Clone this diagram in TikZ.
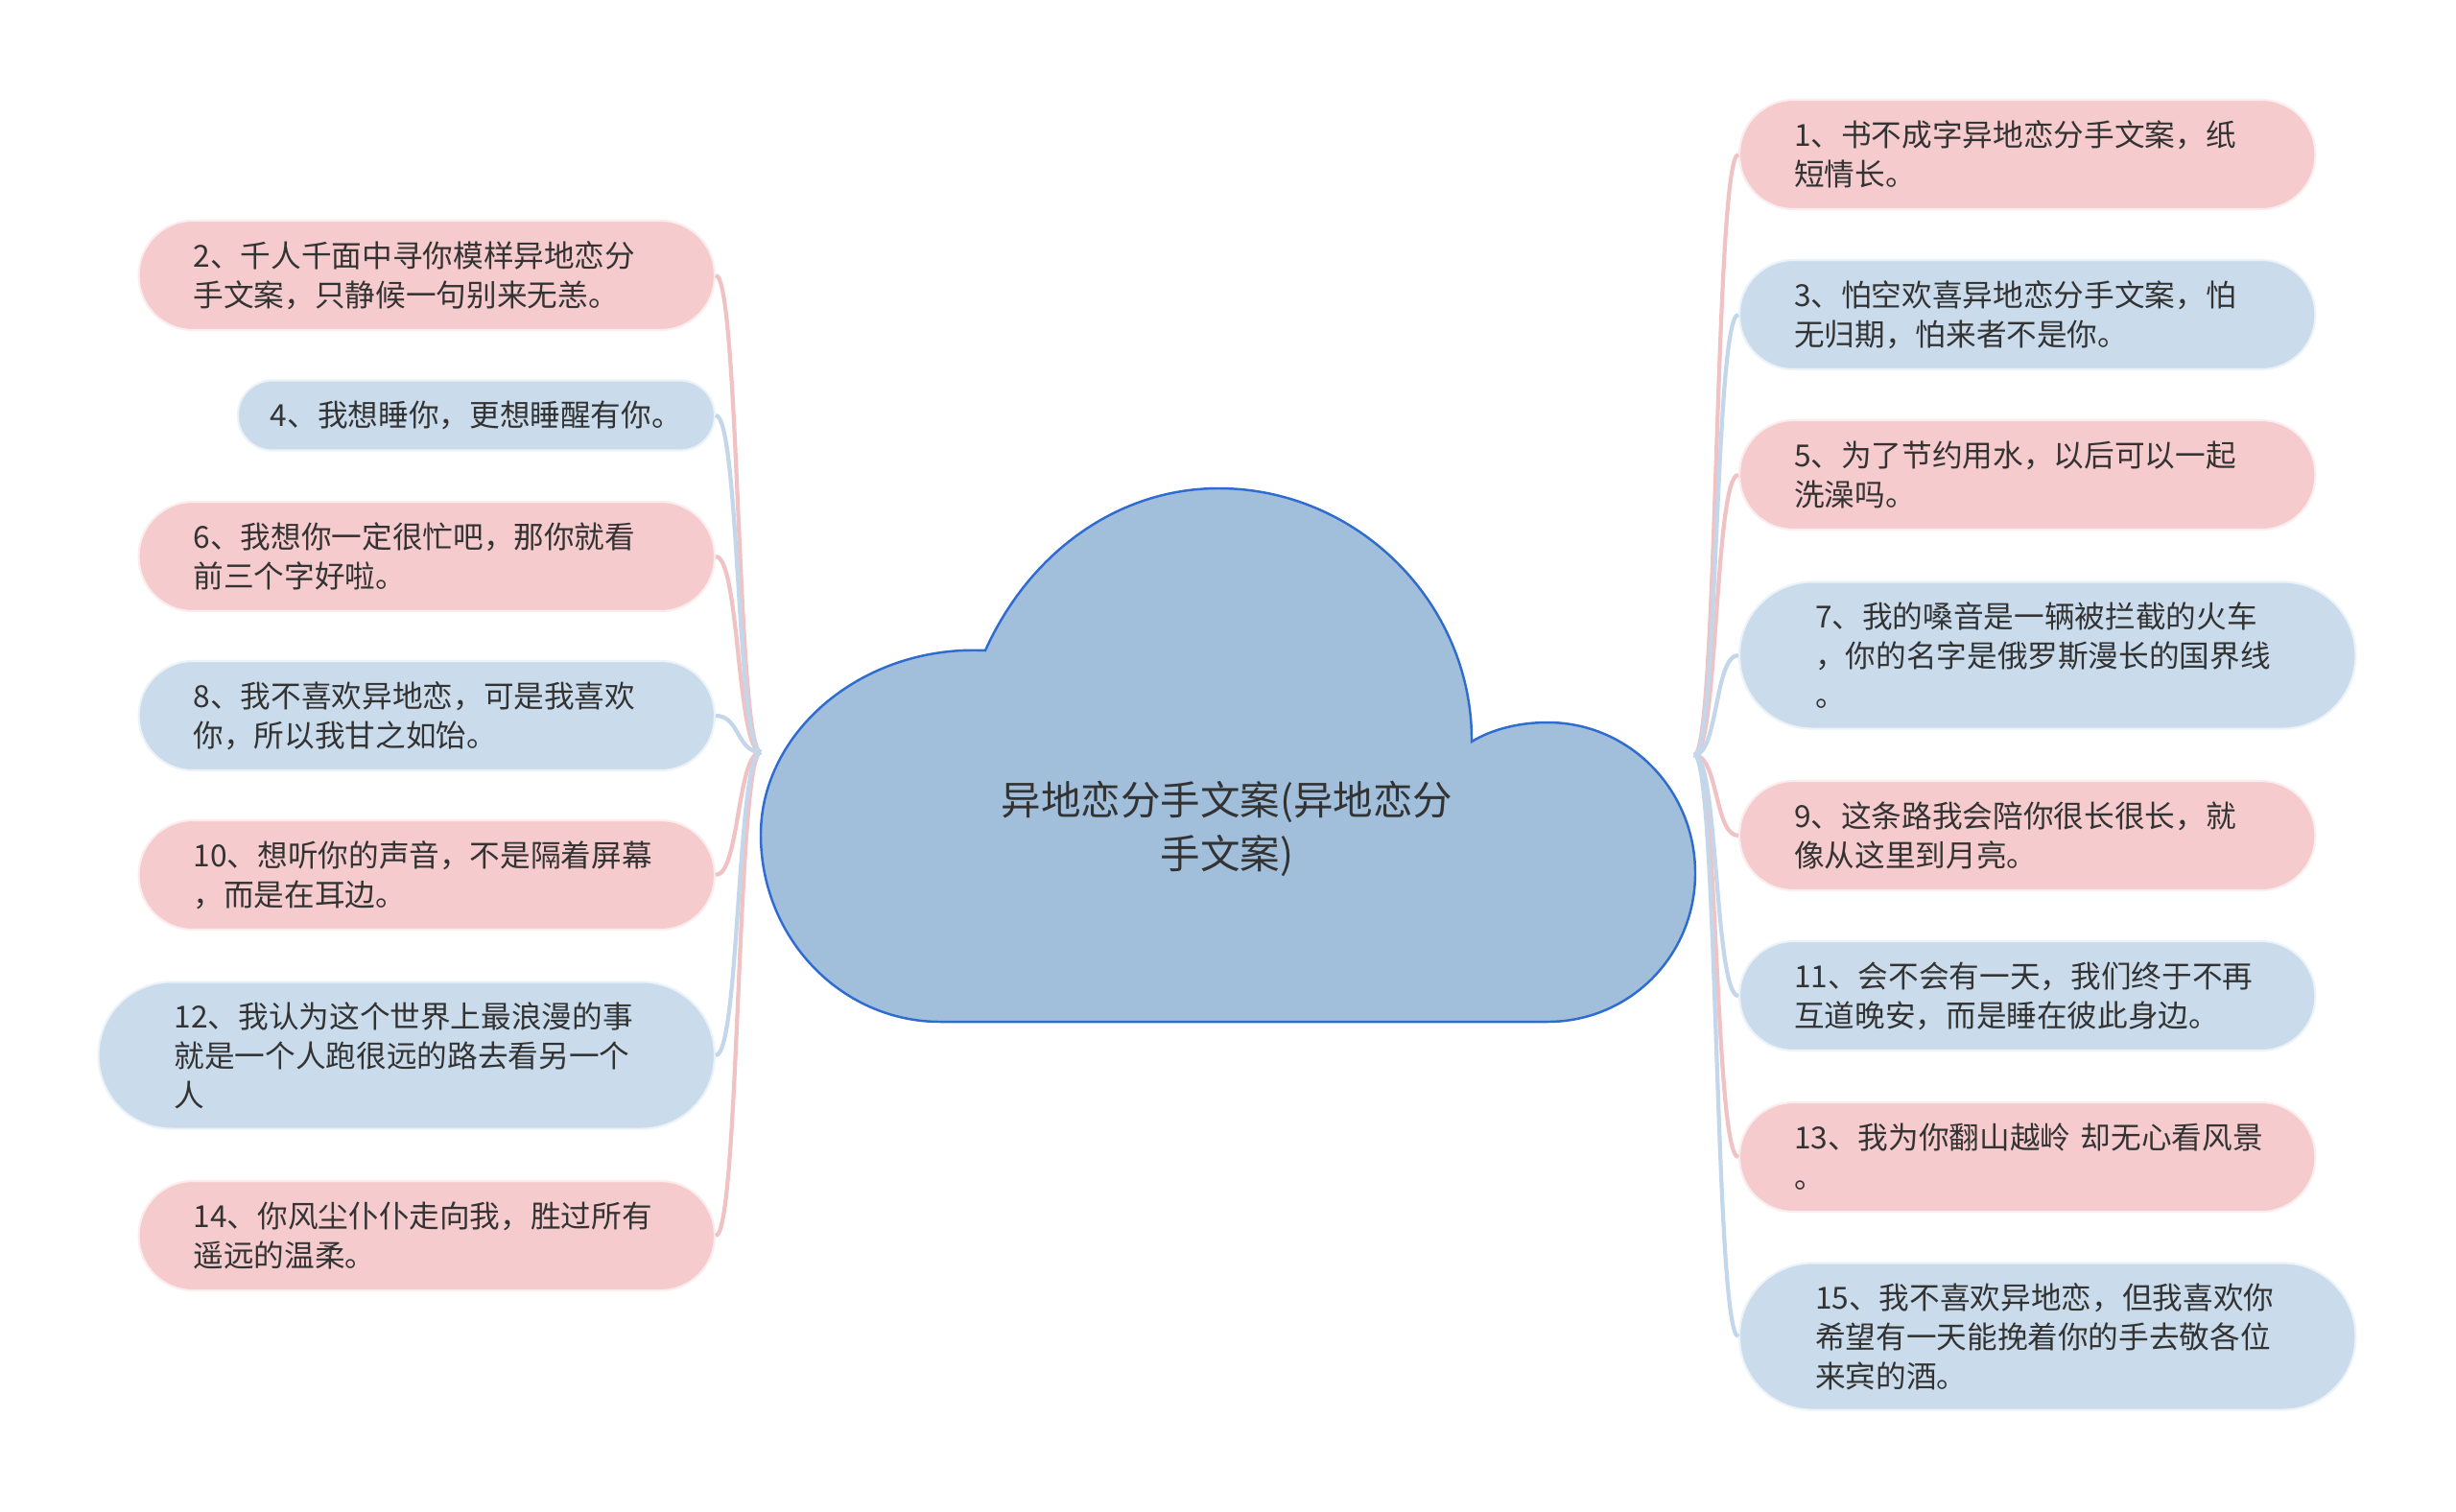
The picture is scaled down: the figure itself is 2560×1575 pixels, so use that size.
\documentclass[tikz,border=0pt]{standalone}
\usepackage{fontspec}
\usepackage{tikz}
\usepackage{xcolor}
\newfontfamily\cjk{Noto Sans CJK SC}
\definecolor{pinkfill}{HTML}{F5CBCD}
\definecolor{bluefill}{HTML}{CADCEC}
\definecolor{pinkline}{HTML}{F0C2C4}
\definecolor{blueline}{HTML}{C3D6EA}
\definecolor{cloudfill}{HTML}{A1BEDB}
\definecolor{cloudline}{HTML}{2F6CD2}
\definecolor{txt}{HTML}{333333}

\begin{document}
\begin{tikzpicture}[x=0.01cm,y=-0.01cm,
  leaftext/.style={text=txt,align=left,font=\cjk\fontsize{9pt}{11.7pt}\selectfont},
  leafbox/.style={leaftext,rectangle,rounded corners=0.565cm,minimum height=1.14cm,inner xsep=0.57cm,text width=4.86cm},
  longbox/.style={leaftext,rectangle,rounded corners=0.76cm,minimum height=1.53cm,inner xsep=0.79cm,text width=4.84cm},
  shortbox/.style={leaftext,rectangle,rounded corners=0.36cm,minimum height=0.73cm,inner xsep=0.34cm},
  pinkbox/.style={fill=pinkfill,draw=pinkfill!35!white,line width=0.6pt},
  bluebox/.style={fill=bluefill,draw=bluefill!35!white,line width=0.6pt},
  pinklink/.style={draw=pinkline,line width=1.2pt},
  bluelink/.style={draw=blueline,line width=1.2pt}]
\fill[white] (0,0) rectangle (2560,1575);
\useasboundingbox (0,0) rectangle (2560,1575);

\filldraw[fill=cloudfill,draw=cloudline,line width=0.7pt] (980,1065) -- (1613,1065)
  .. controls (1698,1065) and (1767,997) .. (1767,910)
  .. controls (1767,823) and (1698,753) .. (1613,753)
  .. controls (1586,753) and (1557,759) .. (1534,773)
  .. controls (1535,630) and (1416,509) .. (1270,509)
  .. controls (1167,509) and (1074,574) .. (1027,678)
  .. controls (900,672) and (793,762) .. (793,870)
  .. controls (793,978) and (877,1065) .. (980,1065) -- cycle;
\node[text=txt,align=center,font=\cjk\fontsize{11.8pt}{15.9pt}\selectfont] (root) at (1279,864) {异地恋分手文案(异地恋分\\手文案)};
\coordinate (hubL) at (793,784);
\coordinate (hubR) at (1766,787);

\node[leafbox,pinkbox,anchor=east] (b2) at (746,287) {2、千人千面中寻你模样异地恋分\\手文案，只静候一句别来无恙。};
\node[shortbox,bluebox,anchor=east] (b4) at (746,433) {4、我想睡你，更想睡醒有你。};
\node[leafbox,pinkbox,anchor=east] (b6) at (746,580) {6、我想你一定很忙吧，那你就看\\前三个字好啦。};
\node[leafbox,bluebox,anchor=east] (b8) at (746,746) {8、我不喜欢异地恋，可是我喜欢\\你，所以我甘之如饴。};
\node[leafbox,pinkbox,anchor=east] (b10) at (746,912) {10、想听你的声音，不是隔着屏幕\\，而是在耳边。};
\node[longbox,bluebox,anchor=east] (b12) at (746,1100) {12、我认为这个世界上最浪漫的事\\就是一个人跑很远的路去看另一个\\人};
\node[leafbox,pinkbox,anchor=east] (b14) at (746,1288) {14、你风尘仆仆走向我，胜过所有\\遥远的温柔。};

\node[leafbox,pinkbox,anchor=west] (b1) at (1812,161) {1、书不成字异地恋分手文案，纸\\短情长。};
\node[leafbox,bluebox,anchor=west] (b3) at (1812,328) {3、怕空欢喜异地恋分手文案，怕\\无归期，怕来者不是你。};
\node[leafbox,pinkbox,anchor=west] (b5) at (1812,495) {5、为了节约用水，以后可以一起\\洗澡吗。};
\node[longbox,bluebox,anchor=west] (b7) at (1812,683) {7、我的嗓音是一辆被拦截的火车\\，你的名字是俄罗斯漫长的国界线\\。};
\node[leafbox,pinkbox,anchor=west] (b9) at (1812,871) {9、这条路我会陪你很长很长，就\\像从这里到月亮。};
\node[leafbox,bluebox,anchor=west] (b11) at (1812,1038) {11、会不会有一天，我们终于不再\\互道晚安，而是睡在彼此身边。};
\node[leafbox,pinkbox,anchor=west] (b13) at (1812,1206) {13、我为你翻山越岭~却无心看风景\\。};
\node[longbox,bluebox,anchor=west] (b15) at (1812,1393) {15、我不喜欢异地恋，但我喜欢你\\希望有一天能挽着你的手去敬各位\\来宾的酒。};

\foreach \n in {b2,b6,b10,b14}
  \draw[pinklink] (hubL) .. controls +(-25,0) and +(25,0) .. (\n.east);
\foreach \n in {b4,b8,b12}
  \draw[bluelink] (hubL) .. controls +(-25,0) and +(25,0) .. (\n.east);
\foreach \n in {b1,b5,b9,b13}
  \draw[pinklink] (hubR) .. controls +(25,0) and +(-25,0) .. (\n.west);
\foreach \n in {b3,b7,b11,b15}
  \draw[bluelink] (hubR) .. controls +(25,0) and +(-25,0) .. (\n.west);

\end{tikzpicture}
\end{document}
